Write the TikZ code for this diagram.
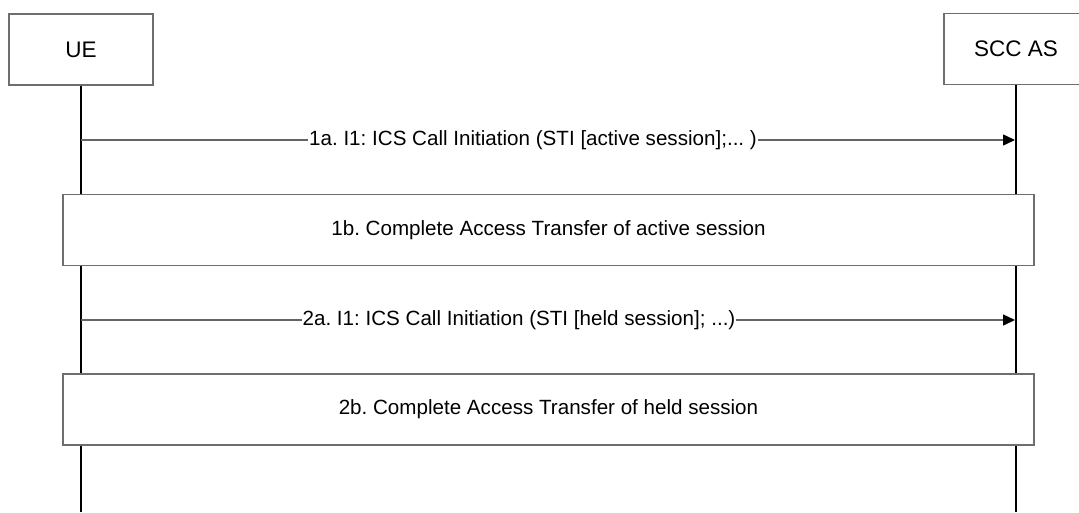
\documentclass[tikz,border=0pt]{standalone}
\usepackage{fontspec}
\setmainfont{Liberation Sans}
\usetikzlibrary{arrows.meta}
\definecolor{boxgray}{RGB}{110,110,110}
\definecolor{msggray}{RGB}{100,100,100}
\begin{document}
\frenchspacing
\begin{tikzpicture}[x=1pt,y=-1pt,
  hdr/.style={draw=boxgray, line width=1.2pt, fill=white, minimum width=144pt, minimum height=71pt, inner sep=0pt, font=\fontsize{22.5}{26}\selectfont},
  lifeline/.style={line width=2pt, black},
  msg/.style={draw=msggray, line width=1.4pt, -{Triangle[length=12pt,width=11pt,color=black,fill=black]}},
  msglabel/.style={fill=white, inner sep=1pt, font=\fontsize{20.6}{24}\selectfont},
  procbox/.style={draw=boxgray, line width=1.2pt, fill=white, minimum width=971pt, minimum height=71pt, inner sep=0pt, font=\fontsize{20.6}{24}\selectfont}]
\useasboundingbox (0,0) rectangle (1079,512);
\clip (0,0) rectangle (1079,512);
\node[hdr] (ue) at (81,49.5) {UE};
\node[hdr] (scc) at (1016,49) {SCC AS};
\coordinate (ueend) at (81,512);
\coordinate (sccend) at (1016,512);
\draw[lifeline] (ue.south) -- (ueend);
\draw[lifeline] (scc.south) -- (sccend);
% message 1a
\coordinate (m1s) at (81,140);
\coordinate (m1e) at (1015,140);
\draw[msg] (m1s) -- (m1e);
\node[msglabel] (l1) at (533,140) {1a. I1: ICS Call Initiation (STI [active session];... )};
% box 1b
\node[procbox] (b1) at (548.5,230) {1b. Complete Access Transfer of active session};
% message 2a
\coordinate (m2s) at (81,320);
\coordinate (m2e) at (1015,320);
\draw[msg] (m2s) -- (m2e);
\node[msglabel] (l2) at (519,320) {2a. I1: ICS Call Initiation (STI [held session]; ...)};
% box 2b
\node[procbox] (b2) at (548.5,409.5) {2b. Complete Access Transfer of held session};
\end{tikzpicture}
\end{document}
